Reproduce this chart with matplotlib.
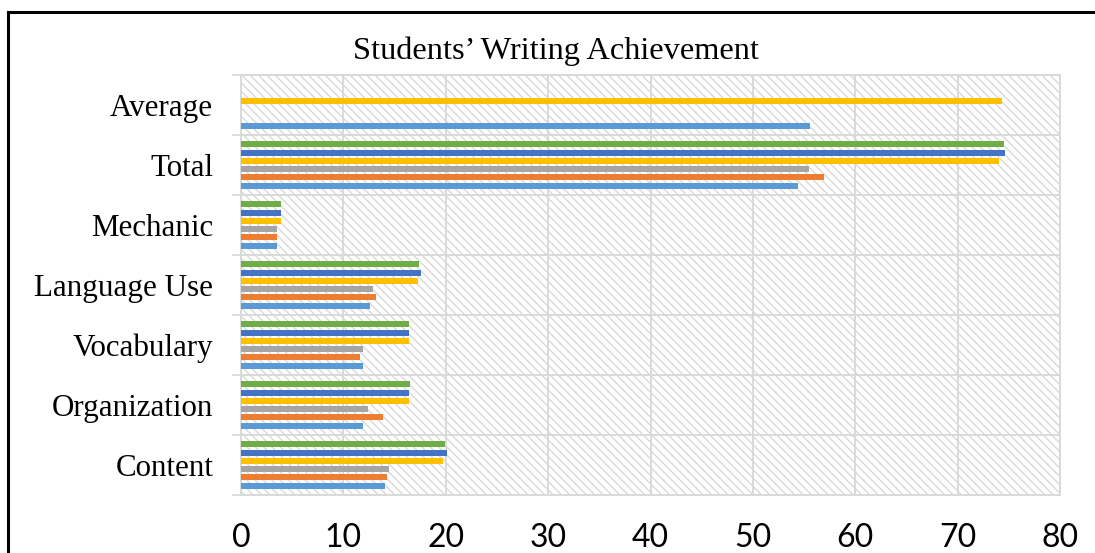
import numpy as np
import matplotlib
matplotlib.use("Agg")
import matplotlib.pyplot as plt
from matplotlib.patches import Rectangle
from matplotlib.lines import Line2D

categories = ["Content", "Organization", "Vocabulary", "Language Use", "Mechanic", "Total", "Average"]
s1 = [14.05, 11.95, 11.95, 12.6, 3.55, 54.4, 55.6]
s2 = [14.3, 13.9, 11.6, 13.15, 3.55, 56.9, np.nan]
s3 = [14.45, 12.4, 11.95, 12.9, 3.55, 55.5, np.nan]
s4 = [19.7, 16.4, 16.4, 17.25, 3.9, 74.0, 74.3]
s5 = [20.1, 16.4, 16.4, 17.6, 3.9, 74.6, np.nan]
s6 = [19.95, 16.5, 16.4, 17.4, 3.9, 74.5, np.nan]
series = [s1, s2, s3, s4, s5, s6]
colors = ["#5B9BD5", "#ED7D31", "#A5A5A5", "#FFC000", "#4472C4", "#70AD47"]
xticks = [0, 10, 20, 30, 40, 50, 60, 70, 80]
title = "Students\u2019 Writing Achievement"

W, H = 1095, 553
fig = plt.figure(figsize=(W / 100, H / 100), dpi=100)
ax = fig.add_axes([241 / W, 1 - 495 / H, (1060 - 241) / W, (495 - 75) / H])

grid_c = "#D9D9D9"
plt.rcParams["hatch.color"] = grid_c
plt.rcParams["hatch.linewidth"] = 1.0

ax.set_xlim(0, 80)
ax.set_ylim(-0.5, len(categories) - 0.5)
ax.add_patch(Rectangle((0, 0), 1, 1, transform=ax.transAxes, facecolor="white",
                       edgecolor=grid_c, hatch="\\\\\\\\", lw=0, zorder=0))

y = np.arange(len(categories))
slot = 0.137
bh = 0.10
for i, (vals, c) in enumerate(zip(series, colors)):
    ax.barh(y + (i - 2.5) * slot, vals, height=bh, color=c, zorder=3)

ax.set_xticks(xticks)
ax.set_xticklabels([str(t) for t in xticks], fontfamily=["Lato", "DejaVu Sans"], fontsize=23)
ax.set_yticks(y)
ax.set_yticklabels(categories, fontfamily="Liberation Serif", fontsize=22.3)
ax.set_yticks(np.arange(len(categories) + 1) - 0.5, minor=True)

ax.tick_params(axis="x", length=0, pad=20)
ax.tick_params(axis="y", which="major", length=0, pad=20)
ax.tick_params(axis="y", which="minor", length=6.5, width=1.2, color=grid_c)
ax.grid(axis="x", which="major", color=grid_c, lw=1.4, zorder=1)
ax.grid(axis="y", which="minor", color=grid_c, lw=1.4, zorder=1)
ax.set_axisbelow(True)
for s in ax.spines.values():
    s.set_color(grid_c)
    s.set_linewidth(1.4)

fig.text(556 / W, 1 - 51 / H, title, ha="center", va="center",
         fontfamily="Liberation Serif", fontsize=23.3)

fig.add_artist(Line2D([8 / W, 8 / W], [0, 1 - 12 / H], transform=fig.transFigure,
                      color="black", lw=2.2, solid_capstyle="projecting"))
fig.add_artist(Line2D([8 / W, 1], [1 - 12 / H, 1 - 12 / H], transform=fig.transFigure,
                      color="black", lw=2.2, solid_capstyle="projecting"))

fig.savefig("out.png", dpi=100)
